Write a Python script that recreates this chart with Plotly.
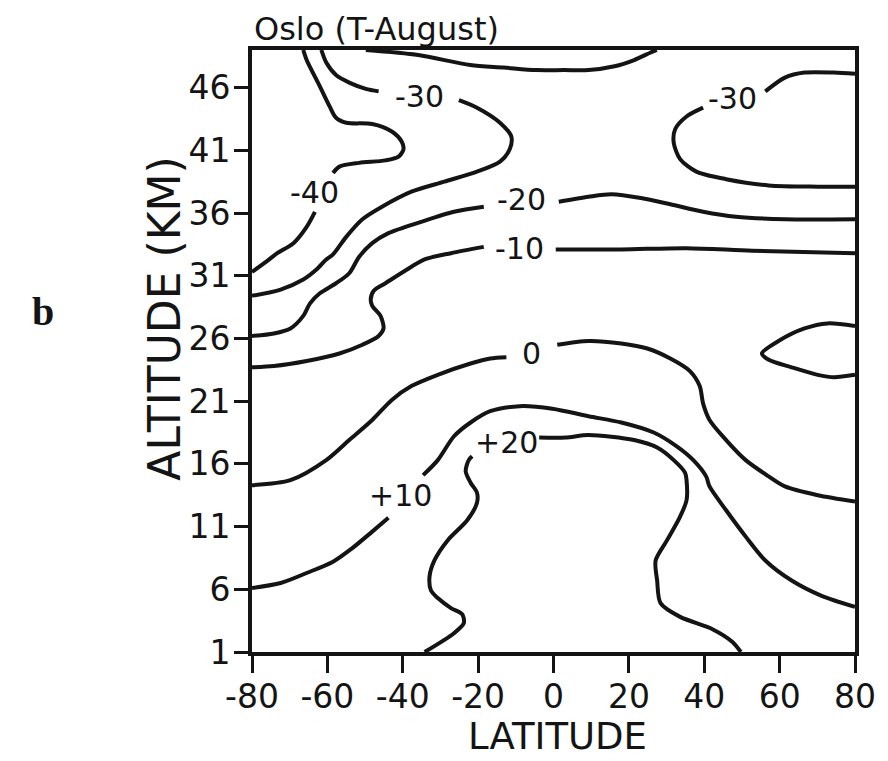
import plotly.graph_objects as go

# ---- isotherm data (latitude in deg, altitude in km) ----
m40_lat = [-66.4, -65.5, -62.0, -59.4, -57.7, -55.0, -48.1, -42.9, -40.3, -39.8, -41.1, -44.6, -51.6, -56.8, -58.5,
           None, -63.3, -65.5, -69.0, -73.3, -76.3, -80]
m40_alt = [49.0, 48.2, 46.1, 44.5, 43.6, 43.2, 43.1, 42.5, 41.7, 41.1, 40.5, 40.2, 40.0, 39.7, 39.2,
           None, 36.1, 34.9, 33.6, 32.8, 32.1, 31.3]

m30a_lat = [-61.6, -60.3, -57.7, -54.2, -49.8, -46.4, None, -25.1, -20.3, -14.2, -11.2, -11.6, -14.2, -20.3, -29.0,
            -37.7, -45.5, -50.7, -55.0, -58.5, -60.3, -62.9, -66.4, -72.4, -80]
m30a_alt = [49.0, 48.0, 47.0, 46.4, 45.9, 45.7, None, 45.0, 44.4, 43.2, 42.1, 41.1, 40.1, 39.3, 38.5,
            37.7, 36.5, 35.5, 34.1, 32.7, 32.3, 31.5, 30.7, 29.9, 29.4]

m30b_lat = [80, 74.4, 66.6, 61.4, 56.2, None, 39.7, 35.3, 32.3, 31.9, 33.6, 37.9, 45.8, 57.1, 70.1, 80]
m30b_alt = [47.1, 47.2, 47.2, 46.8, 45.7, None, 44.4, 43.7, 42.7, 41.6, 40.3, 39.3, 38.7, 38.2, 38.1, 38.1]

top_lat = [-49.8, -35.9, -22.1, -13.2, -4.6, 2.8, 9.3, 16.2, 21.4, 25.8, 27.4]
top_alt = [49.0, 48.6, 47.8, 47.6, 47.4, 47.4, 47.4, 47.7, 48.2, 48.8, 49.0]

m20_lat = [-80, -74.2, -69.8, -66.4, -64.6, -62.0, -57.7, -54.2, -51.6, -48.1, -43.8, -35.1, -26.4, -18.5,
           None, 1.4, 9.3, 15.4, 23.2, 31.0, 39.7, 48.4, 61.4, 80]
m20_alt = [26.2, 26.4, 26.8, 27.8, 28.8, 29.6, 30.4, 31.2, 32.5, 33.6, 34.4, 35.3, 36.1, 36.5,
           None, 36.9, 37.3, 37.5, 37.2, 36.7, 36.1, 35.7, 35.5, 35.5]

m10_lat = [-80, -74.2, -65.5, -56.8, -50.7, -46.4, -45.1, -45.9, -48.1, -48.5, -47.7, -44.6, -39.4, -34.2, -27.2,
           -18.5, None, 0.6, 18.0, 35.3, 52.7, 80]
m10_alt = [23.7, 23.8, 24.2, 24.8, 25.5, 26.2, 26.8, 27.8, 28.6, 29.1, 29.8, 30.4, 31.4, 32.3, 32.8,
           33.3, None, 33.1, 33.1, 33.2, 33.0, 32.8]

z0_lat = [-80, -69.8, -60.3, -54.2, -48.1, -42.9, -37.7, -30.7, -22.0, -16.8, -12.5, None, 1.0, 9.3, 18.0, 24.9,
          31.0, 36.2, 38.8, 39.7, 41.4, 45.8, 51.0, 57.1, 61.4, 70.1, 80]
z0_alt = [14.3, 14.7, 16.3, 17.9, 19.5, 21.1, 22.2, 23.1, 24.0, 24.4, 24.5, None, 25.5, 25.8, 25.6, 25.2,
          24.4, 23.4, 22.2, 20.8, 19.5, 17.9, 16.3, 15.0, 14.2, 13.5, 13.0]

wedge_lat = [80, 72.7, 66.6, 59.7, 55.3, 57.1, 63.2, 70.1, 74.4, 80]
wedge_alt = [27.0, 27.2, 26.8, 25.8, 24.8, 24.3, 23.7, 23.1, 22.9, 23.1]

p10_lat = [-80, -72.4, -65.5, -58.5, -53.3, -48.1, -43.8, None, -34.6, -30.7, -26.4, -22.0, -16.8, -9.0, -0.3,
           9.3, 18.0, 26.6, 32.7, 37.1, 40.5, 41.4, 45.8, 51.0, 56.2, 63.2, 71.0, 80]
p10_alt = [6.1, 6.5, 7.3, 8.2, 9.3, 10.6, 11.7, None, 15.1, 16.3, 18.2, 19.3, 20.2, 20.6, 20.4,
           19.8, 19.3, 18.5, 17.4, 16.3, 15.0, 14.2, 12.3, 10.2, 8.3, 6.7, 5.5, 4.6]

p20_lat = [-34.2, -26.4, -23.8, -24.2, -27.2, -30.7, -32.5, -32.9, -31.6, -28.1, -22.9, -20.3, -20.3, -22.0,
           -23.3, -22.5, -21.6, None, -3.8, 3.2, 9.3, 21.4, 27.5, 31.9, 34.9, 35.3, 35.3, 33.6, 30.1, 27.1,
           27.5, 28.4, 33.6, 42.3, 47.5, 49.7]
p20_alt = [1.0, 2.5, 3.3, 4.0, 4.5, 5.3, 5.9, 7.0, 8.3, 9.9, 11.5, 12.9, 13.7, 14.5,
           15.4, 16.3, 16.6, None, 18.1, 18.1, 18.3, 17.9, 17.3, 16.3, 15.3, 14.7, 13.1, 11.8, 9.9, 8.3,
           6.7, 4.9, 3.8, 2.8, 1.8, 1.0]

# contour labels
label_text = ["-40", "-30", "-20", "-10", "0", "+10", "+20", "-30"]
label_lat = [-63.3, -35.5, -8.6, -9.0, -5.9, -40.7, -12.5, 47.5]
label_alt = [37.6, 45.3, 37.1, 33.2, 24.8, 13.5, 17.7, 45.1]

x_ticks = [-80, -60, -40, -20, 0, 20, 40, 60, 80]
y_ticks = [1, 6, 11, 16, 21, 26, 31, 36, 41, 46]

INK = "#141414"
FONT = "DejaVu Sans"

fig = go.Figure()
lines = [(m40_lat, m40_alt), (m30a_lat, m30a_alt), (m30b_lat, m30b_alt), (top_lat, top_alt),
         (m20_lat, m20_alt), (m10_lat, m10_alt), (z0_lat, z0_alt), (wedge_lat, wedge_alt),
         (p10_lat, p10_alt), (p20_lat, p20_alt)]
for lx, ly in lines:
    fig.add_trace(go.Scatter(x=lx, y=ly, mode="lines", connectgaps=False, hoverinfo="skip",
                             showlegend=False,
                             line=dict(color=INK, width=4, shape="spline", smoothing=0.8)))

for t, lx, ly in zip(label_text, label_lat, label_alt):
    fig.add_annotation(x=lx, y=ly, text=t, showarrow=False, xanchor="center", yanchor="middle",
                       font=dict(family=FONT, size=30, color=INK))

fig.add_annotation(xref="paper", yref="paper", x=0.0, y=1.0, xanchor="left", yanchor="bottom",
                   yshift=0, text="Oslo (T-August)", showarrow=False,
                   font=dict(family=FONT, size=32, color=INK))
fig.add_annotation(xref="paper", yref="paper", x=-0.145, y=0.553, textangle=-90, text="ALTITUDE (KM)",
                   showarrow=False, xanchor="center", yanchor="middle",
                   font=dict(family=FONT, size=44, color=INK))
fig.add_annotation(xref="paper", yref="paper", x=0.507, y=-0.141, text="LATITUDE",
                   showarrow=False, xanchor="center", yanchor="middle",
                   font=dict(family=FONT, size=37, color=INK))
fig.add_annotation(xref="paper", yref="paper", x=-0.346, y=0.565, text="<b>b</b>",
                   showarrow=False, xanchor="center", yanchor="middle",
                   font=dict(family="Liberation Serif", size=40, color=INK))

fig.update_xaxes(range=[-80, 80], tickvals=x_ticks, ticktext=[str(v) for v in x_ticks],
                 ticks="outside", ticklen=17, tickwidth=3, tickcolor=INK,
                 showline=True, linewidth=4, linecolor=INK, mirror=True,
                 showgrid=False, zeroline=False, ticklabelstandoff=-5,
                 tickfont=dict(family=FONT, size=33, color=INK))
fig.update_yaxes(range=[1, 49], tickvals=y_ticks, ticktext=[str(v) for v in y_ticks],
                 ticks="outside", ticklen=14, tickwidth=3, tickcolor=INK,
                 showline=True, linewidth=4, linecolor=INK, mirror=True,
                 showgrid=False, zeroline=False, ticklabelstandoff=-3,
                 tickfont=dict(family=FONT, size=33, color=INK))

# the page body adds an 8px margin, so the figure is sized to fit the 888x761 window
fig.update_layout(width=880, height=753, margin=dict(l=244, r=24, t=42, b=109),
                  paper_bgcolor="white", plot_bgcolor="white")

fig.write_html("out.html")
